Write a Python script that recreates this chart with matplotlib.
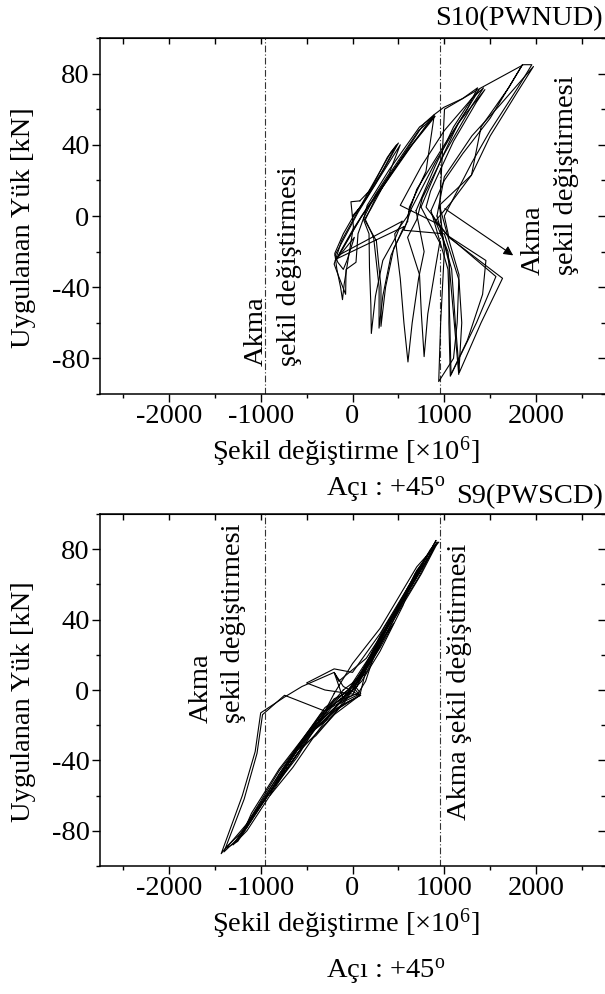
import matplotlib
matplotlib.use("Agg")
import matplotlib.pyplot as plt
from matplotlib.ticker import MultipleLocator

plt.rcParams['font.family'] = ['Liberation Serif', 'DejaVu Serif']
plt.rcParams['mathtext.fontset'] = 'custom'
plt.rcParams['mathtext.rm'] = 'Liberation Serif'
plt.rcParams['mathtext.it'] = 'Liberation Serif'

FS = 20.5

# yield strain (x10^6) marked by dash-dot lines
yield_strain = [-950, 950]

x_ticks = [-2000, -1000, 0, 1000, 2000]
y_ticks = [-80, -40, 0, 40, 80]

# S10(PWNUD) cycles: (strain, load)
s10_loop1 = [(0, 0), (100, 6), (250, 18), (480, 40), (380, 33), (150, 10), (0, -1), (-100, -10),
             (-193, -21), (-170, -30), (-130, -40), (-109, -47), (-90, -38), (-40, -22), (10, -6),
             (-17, 8), (80, 8.5)]
s10_loop2 = [(80, 8.5), (200, 15), (350, 27), (500, 41), (420, 36), (200, 16), (30, 0), (-120, -14),
             (-200, -27), (-150, -34), (-75, -44), (-70, -30), (38, -26), (60, -10), (122, -1)]
s10_loop3 = [(122, -1), (250, 12), (400, 24), (520, 40), (300, 22), (60, 2), (-190, -22),
             (-160, -26), (-100, -30), (-60, -25), (20, -12), (-185, -25)]
s10_loop4 = [(-185, -25), (0, -8), (150, 4), (350, 18), (600, 37), (890, 56), (730, 50), (400, 26),
             (160, 6), (120, -2), (180, -10), (185, -29), (200, -50), (205, -66), (250, -45),
             (330, -25), (470, -12), (540, -3)]
s10_loop5 = [(540, -3), (-150, -22), (100, 0), (350, 19), (620, 38), (890, 57), (780, 52), (500, 30),
             (250, 10), (140, -2), (230, -12), (290, -40), (289, -63), (330, -45), (420, -22),
             (560, -6)]
s10_loop6 = [(560, -6), (-170, -24), (90, -1), (380, 20), (650, 40), (900, 56), (720, 48), (420, 25),
             (200, 4), (130, -2), (260, -14), (310, -40), (310, -62), (360, -40), (450, -18),
             (600, -3)]
s10_loop7 = [(600, -3), (620, 5), (800, 25), (891, 57), (993, 61), (1200, 66), (1362, 72),
             (1250, 60), (1000, 40), (700, 15), (600, 0), (460, -10), (520, -35), (560, -60),
             (604, -82), (650, -60), (720, -35), (780, -20), (692, 3)]
s10_loop8 = [(692, 3), (900, 28), (1100, 50), (1300, 66), (1427, 72), (1300, 62), (1000, 35),
             (760, 10), (700, -2), (600, -12), (730, -33), (750, -55), (780, -79), (820, -55),
             (900, -30), (950, -15), (746, 5)]
s10_loop9 = [(746, 5), (950, 30), (1150, 52), (1442, 71), (1350, 64), (1100, 42), (850, 14),
             (801, 5), (1036, -11), (1453, -25), (1417, -44), (1250, -70), (1073, -89),
             (1060, -60), (1040, -30), (855, 3)]
s10_loop10 = [(855, 3), (1000, 20), (1200, 35), (1500, 55), (1851, 85), (1700, 72), (1400, 50),
              (1296, 23), (946, 6), (1036, -11), (1160, -33), (1140, -60), (1100, -80), (939, -93),
              (960, -60), (1000, -20), (950, 5)]
s10_loop11 = [(950, 5), (1002, 60), (1400, 72), (1862, 85), (1953, 85), (1800, 72), (1500, 48),
              (1300, 30), (1100, 10), (1000, 0), (1050, -12), (1634, -35), (1400, -60),
              (1163, -88), (1120, -60), (1080, -30), (920, 0)]
s10_loop12 = [(920, 0), (1000, 22), (1300, 45), (1600, 62), (1971, 84), (1800, 70), (1500, 45),
              (1296, 23), (1080, 8), (900, -3), (1036, -11), (1562, -34), (1350, -60),
              (1065, -90), (1050, -60), (1054, -27), (950, -5)]
s10_loop13 = [(950, -5), (520, 6), (750, 28), (1000, 48), (1250, 63), (1380, 71), (1200, 56),
              (900, 30), (640, 4), (560, -8), (1000, -10), (1160, -36), (1190, -60), (1157, -89),
              (1100, -55), (1040, -20), (880, 0)]

# S9(PWSCD) cycles
s9_loop1 = [(0, 0), (150, 12), (300, 25), (150, 14), (0, 3), (-100, -5), (-250, -14),
            (-400, -22), (-250, -16), (-100, -8), (0, 0)]
s9_loop2 = [(0, 0), (100, 8), (300, 24), (450, 38), (300, 27), (100, 10), (0, 2), (80, -3),
            (-150, -10), (-400, -22), (-600, -34), (-400, -26), (-200, -14), (-50, -3)]
s9_loop3 = [(-50, -3), (100, 5), (300, 22), (550, 48), (600, 55), (400, 38), (150, 18),
            (-150, 5), (-200, 10), (-100, 2), (80, -3), (-200, -12), (-500, -26), (-800, -48),
            (-900, -60), (-650, -44), (-400, -25), (-100, -4)]
s9_loop4 = [(-100, -4), (150, 10), (400, 35), (700, 68), (800, 75), (600, 58), (300, 32),
            (0, 10), (-200, 12), (-500, 4), (-300, 0), (90, -3), (-100, -8), (-400, -18),
            (-800, -45), (-1100, -70), (-1200, -82), (-1000, -65), (-600, -38), (-300, -12),
            (-200, -2)]
s9_loop5 = [(-200, -2), (0, 15), (300, 35), (700, 70), (940, 84), (850, 80), (600, 58),
            (300, 30), (143, 5), (60, -2), (-100, -5), (-200, 10), (-550, 2), (-740, -4),
            (-1000, -13), (-1060, -35), (-1200, -60), (-1430, -93), (-1370, -89), (-1150, -78),
            (-800, -48), (-500, -25), (-200, -5), (0, 0)]
s9_loop6 = [(0, 0), (200, 20), (500, 48), (910, 85), (700, 65), (400, 38), (100, 8), (0, -3),
            (-300, -12), (-740, -3), (-980, -14), (-1040, -36), (-1180, -62), (-1400, -92),
            (-1200, -82), (-900, -58), (-600, -32), (-300, -10), (0, 2)]
s9_loop7 = [(0, 2), (250, 24), (550, 52), (930, 84), (750, 66), (450, 40), (150, 12), (80, -3),
            (-200, -14), (-600, -36), (-1000, -66), (-1250, -85), (-1100, -72), (-700, -44),
            (-350, -18), (0, 0)]
s9_loop8 = [(0, 0), (200, 18), (450, 42), (680, 66), (920, 84), (720, 64), (480, 44), (200, 20),
            (0, 4), (90, -2), (-150, -8), (-450, -22), (-800, -46), (-1150, -76), (-1380, -90),
            (-1250, -86), (-950, -62), (-650, -38), (-350, -15), (-100, 0)]
s9_loop9 = [(-100, 0), (100, 8), (350, 30), (600, 55), (880, 80), (650, 60), (350, 36), (100, 10),
            (-50, 0), (-350, -14), (-700, -40), (-1050, -68), (-1300, -88), (-1150, -80),
            (-850, -56), (-500, -28), (-200, -8), (0, 0)]
s9_loop10 = [(0, 0), (300, 28), (600, 58), (760, 72), (550, 52), (250, 22), (50, 2), (-250, -10),
             (-600, -34), (-950, -62), (-1150, -76), (-900, -58), (-550, -30), (-250, -10), (50, 2)]

s10_loops = [s10_loop1, s10_loop2, s10_loop3, s10_loop4, s10_loop5, s10_loop6, s10_loop7,
             s10_loop8, s10_loop9, s10_loop10, s10_loop11, s10_loop12, s10_loop13]
s9_loops = [s9_loop1, s9_loop2, s9_loop3, s9_loop4, s9_loop5, s9_loop6, s9_loop7,
            s9_loop8, s9_loop9, s9_loop10]

W, H = 605, 994
fig = plt.figure(figsize=(W / 100, H / 100), dpi=100)


def fx(px):
    return px / W


def fy(py):
    return 1 - py / H


def make_axes(top_px, bottom_px):
    ax = fig.add_axes([fx(100), fy(bottom_px), fx(605) - fx(100), (bottom_px - top_px) / H])
    ax.set_xlim(-2750, 2750)
    ax.set_ylim(-100, 100)
    ax.set_xticks(x_ticks)
    ax.set_yticks(y_ticks)
    ax.set_xticklabels([str(v) for v in x_ticks])
    ax.set_yticklabels([str(v) for v in y_ticks])
    ax.xaxis.set_minor_locator(MultipleLocator(500))
    ax.yaxis.set_minor_locator(MultipleLocator(20))
    ax.tick_params(which='major', direction='out', length=5.5, width=1, labelsize=FS, pad=2)
    ax.tick_params(which='minor', direction='out', length=3, width=1)
    for s in ax.spines.values():
        s.set_linewidth(1.1)
    ax.spines['right'].set_visible(False)
    secx = ax.secondary_xaxis('top')
    secx.set_xticks(x_ticks)
    secx.xaxis.set_minor_locator(MultipleLocator(500))
    secx.tick_params(which='both', direction='in', labeltop=False, length=4, width=1)
    secy = ax.secondary_yaxis('right')
    secy.set_yticks(y_ticks)
    secy.yaxis.set_minor_locator(MultipleLocator(20))
    secy.tick_params(which='major', direction='in', labelright=False, length=5, width=1)
    secy.tick_params(which='minor', direction='in', labelright=False, length=3, width=1)
    secy.spines['right'].set_visible(False)
    for xv in yield_strain:
        ax.axvline(xv, color='#333333', lw=0.8, linestyle=(0, (6, 2, 1, 2)))
    return ax


def draw_loops(ax, loops):
    for loop in loops:
        xs = [p[0] for p in loop]
        ys = [p[1] for p in loop]
        ax.plot(xs, ys, color='black', lw=0.8)


ax1 = make_axes(38, 394)
draw_loops(ax1, s10_loops)
ax1.text(-870, -84, "Akma\nşekil değiştirmesi", rotation=90, ha='center', va='bottom',
         multialignment='left', fontsize=FS, linespacing=1.45)
ax1.text(2150, -33, "Akma\nşekil değiştirmesi", rotation=90, ha='center', va='bottom',
         multialignment='left', fontsize=FS, linespacing=1.45)
ax1.annotate("", xy=(1775, -23), xytext=(980, 5),
             arrowprops=dict(arrowstyle='-|>', color='black', lw=0.8, mutation_scale=14))

ax2 = make_axes(514, 866)
draw_loops(ax2, s9_loops)
ax2.text(-1470, -19, "Akma\nşekil değiştirmesi", rotation=90, ha='center', va='bottom',
         multialignment='left', fontsize=FS, linespacing=1.35)
ax2.text(1163, -74, "Akma şekil değiştirmesi", rotation=90, ha='center', va='bottom',
         fontsize=FS)

xlab = r"Şekil değiştirme [×$\mathregular{10^{6}}$]"
angle = r"Açı : +$\mathregular{45^{o}}$"

fig.text(fx(603), fy(19), "S10(PWNUD)", ha='right', va='center', fontsize=FS)
fig.text(fx(346), fy(452), xlab, ha='center', va='center', fontsize=FS)
fig.text(fx(386), fy(490), angle, ha='center', va='center', fontsize=FS)
fig.text(fx(603), fy(497), "S9(PWSCD)", ha='right', va='center', fontsize=FS)
fig.text(fx(346), fy(924), xlab, ha='center', va='center', fontsize=FS)
fig.text(fx(386), fy(972), angle, ha='center', va='center', fontsize=FS)
fig.text(fx(24), fy(228), "Uygulanan Yük [kN]", rotation=90, ha='center', va='center', fontsize=FS)
fig.text(fx(24), fy(702), "Uygulanan Yük [kN]", rotation=90, ha='center', va='center', fontsize=FS)

fig.savefig("out.png", dpi=100)
